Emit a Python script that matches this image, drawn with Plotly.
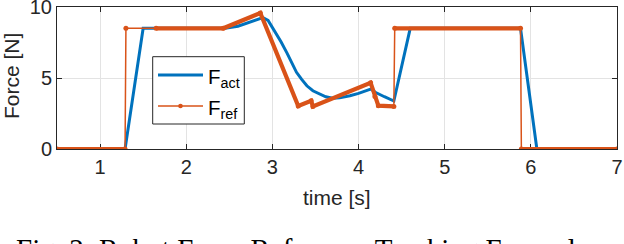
import plotly.graph_objects as go

# ---- data ----
act_t = [0.5, 1.29, 1.50, 2.45, 2.60, 2.78, 2.89, 2.95, 3.03, 3.10, 3.17, 3.23, 3.28,
         3.34, 3.40, 3.47, 3.55, 3.62, 3.70, 3.78, 3.90, 4.00, 4.14, 4.20, 4.30, 4.41,
         4.60, 5.88, 6.07, 7.0]
act_f = [0.0, 0.0, 8.5, 8.5, 8.65, 9.0, 9.25, 9.05, 8.3, 7.55, 6.75, 6.0, 5.4,
         4.9, 4.45, 4.1, 3.85, 3.68, 3.58, 3.6, 3.75, 3.92, 4.22, 3.98, 3.68, 3.38,
         8.5, 8.5, 0.0, 0.0]

ref_t = [0.5, 1.29, 1.30, 1.65, 2.43, 2.86, 3.30, 3.45, 3.47, 4.14, 4.19, 4.23, 4.41,
         4.42, 5.88, 5.89, 7.0]
ref_f = [0.0, 0.0, 8.5, 8.5, 8.5, 9.58, 3.03, 3.4, 3.0, 4.67, 3.7, 3.05, 3.0,
         8.5, 8.5, 0.0, 0.0]
# whether the segment starting at each point is densely sampled (drawn beaded/thick)
ref_dense = [True, False, False, True, True, True, True, True, True, True, True, True,
             False, True, False, True]

x_ticks = [1, 2, 3, 4, 5, 6, 7]
y_ticks = [0, 5, 10]
legend_labels = ["F<sub>act</sub>", "F<sub>ref</sub>"]

BLUE = "#0072BD"
ORANGE = "#D95319"
AX = "#262626"

# thick (densely sampled) portions of the reference
thick_t, thick_f = [], []
for i, d in enumerate(ref_dense):
    if d:
        if thick_t and thick_t[-1] is not None and thick_t[-1] != ref_t[i]:
            thick_t.append(None); thick_f.append(None)
        if not thick_t or thick_t[-1] != ref_t[i]:
            thick_t.append(ref_t[i]); thick_f.append(ref_f[i])
        thick_t.append(ref_t[i + 1]); thick_f.append(ref_f[i + 1])
    else:
        if thick_t and thick_t[-1] is not None:
            thick_t.append(None); thick_f.append(None)

fig = go.Figure()
fig.add_trace(go.Scatter(x=act_t, y=act_f, mode="lines", name=legend_labels[0],
                         showlegend=False, line=dict(color=BLUE, width=3)))
fig.add_trace(go.Scatter(x=thick_t, y=thick_f, mode="lines", showlegend=False,
                         line=dict(color=ORANGE, width=4.2), hoverinfo="skip"))
fig.add_trace(go.Scatter(x=ref_t, y=ref_f, mode="lines+markers", name=legend_labels[1],
                         showlegend=False, line=dict(color=ORANGE, width=1.5),
                         marker=dict(color=ORANGE, size=5)))

L, R, T, B = 57, 7, 7, 95
W, H = 624, 244
ph = H - T - B
pw = W - L - R


def py(p):
    return (H - B - p) / ph


def px(p):
    return (p - L) / pw


axis_common = dict(showline=True, linecolor=AX, linewidth=1, mirror="ticks",
                   ticks="inside", ticklen=5, tickcolor=AX, tickwidth=1,
                   showgrid=True, gridcolor="#e3e3e3", gridwidth=1,
                   zeroline=False, layer="below traces", automargin=False,
                   ticklabeloverflow="allow",
                   tickfont=dict(family="Liberation Sans", size=20, color=AX))

fig.update_xaxes(range=[0.5, 7], tickvals=x_ticks, ticktext=[str(v) for v in x_ticks],
                 **axis_common)
fig.update_yaxes(range=[0, 10], tickvals=y_ticks, ticktext=[str(v) for v in y_ticks],
                 **axis_common)

# ---- hand-built legend box (MATLAB style) ----
box = (152.7, 56.7, 244.3, 124.0)
rows = [(75.0, BLUE, 3.0, False), (106.0, ORANGE, 1.5, True)]
shapes = [dict(type="rect", xref="paper", yref="paper", x0=px(box[0]), x1=px(box[2]),
               y0=py(box[3]), y1=py(box[1]), fillcolor="white",
               line=dict(color=AX, width=1), layer="above")]
legend_ann = []
for (yy, col, lw, dot), lab in zip(rows, legend_labels):
    shapes.append(dict(type="line", xref="paper", yref="paper", x0=px(158), x1=px(203),
                       y0=py(yy), y1=py(yy), line=dict(color=col, width=lw),
                       layer="above"))
    if dot:
        r = 2.3
        shapes.append(dict(type="circle", xref="paper", yref="paper",
                           x0=px(180.5 - r), x1=px(180.5 + r), y0=py(yy + r),
                           y1=py(yy - r), fillcolor=col, line=dict(color=col, width=0),
                           layer="above"))
    legend_ann.append(dict(text=lab, x=px(205.5), y=py(yy + 2.5), xref="paper",
                           yref="paper", xanchor="left", yanchor="middle",
                           showarrow=False,
                           font=dict(family="Liberation Sans", size=20.5, color="black")))

fig.update_layout(
    width=W, height=H,
    margin=dict(l=L, r=R, t=T, b=B, pad=0),
    paper_bgcolor="white", plot_bgcolor="white",
    showlegend=False,
    shapes=shapes,
    annotations=legend_ann + [
        dict(text="time [s]", x=px(337), y=py(197), xref="paper", yref="paper",
             xanchor="center", yanchor="middle", showarrow=False,
             font=dict(family="Liberation Sans", size=21, color=AX)),
        dict(text="Force [N]", x=px(11), y=py(76), xref="paper", yref="paper",
             xanchor="center", yanchor="middle", showarrow=False, textangle=-90,
             font=dict(family="Liberation Sans", size=21, color=AX)),
        dict(text="Fig. 2: Robot Force Reference Tracking Example", x=px(302),
             y=py(231), xref="paper", yref="paper", xanchor="center", yanchor="top",
             showarrow=False,
             font=dict(family="Liberation Serif", size=29, color="black")),
    ],
)

fig.write_html("out.html", config={"displayModeBar": False},
               post_script="document.body.style.margin='0';document.body.style.overflow='hidden';")
